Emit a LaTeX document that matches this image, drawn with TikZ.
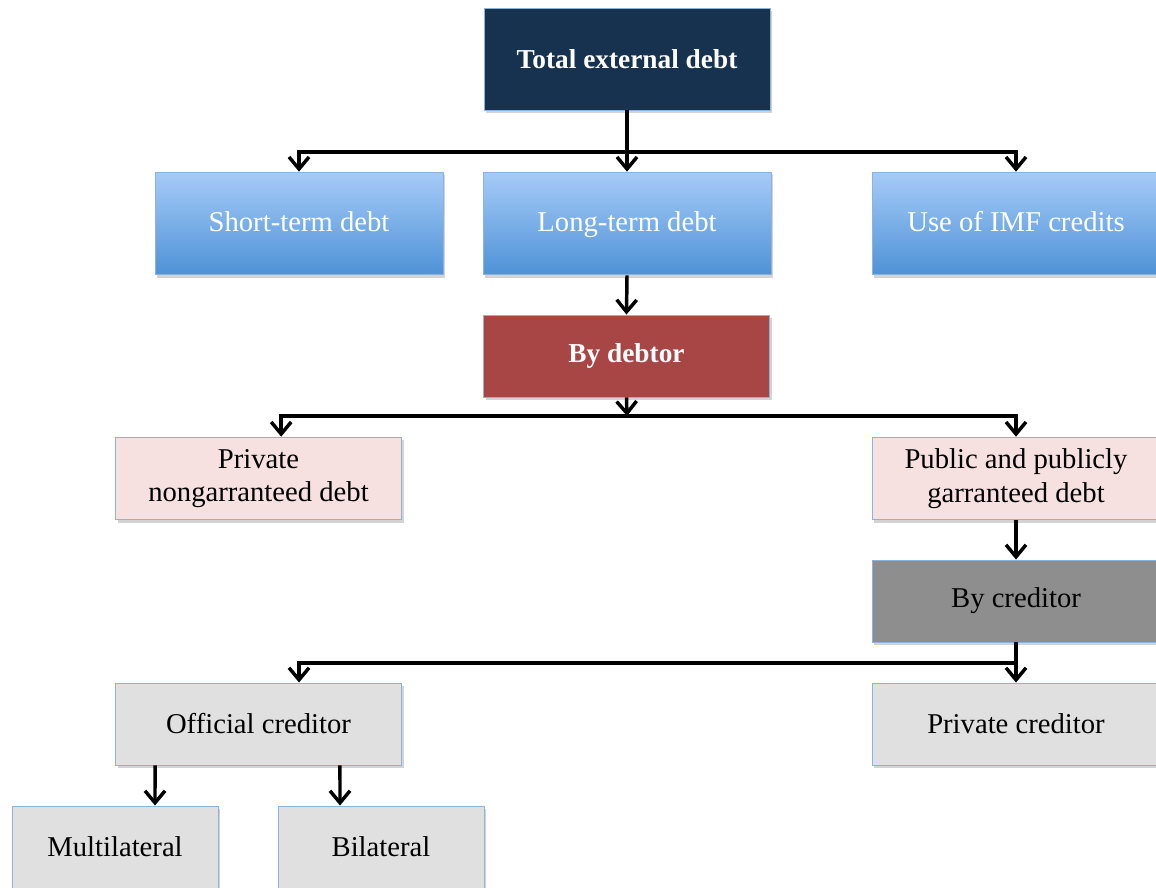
\documentclass[tikz,border=0pt]{standalone}
\usepackage{fontspec}
\setmainfont{Liberation Serif}
\usetikzlibrary{arrows.meta,shadows}
\definecolor{navy}{RGB}{22,50,78}
\definecolor{debtred}{RGB}{168,70,70}
\definecolor{pinkfill}{RGB}{246,225,224}
\definecolor{darkgray}{RGB}{142,142,142}
\definecolor{lightgray}{RGB}{224,224,224}
\definecolor{edgeblue}{RGB}{140,178,222}
\definecolor{bluetop}{RGB}{166,203,247}
\definecolor{bluebot}{RGB}{78,146,215}

\begin{document}
\begin{tikzpicture}[x=0.75pt, y=-0.75pt,
    box/.style={draw=edgeblue, line width=0.7pt, inner sep=0pt, align=center,
        font=\fontsize{21.5}{25}\selectfont,
        drop shadow={shadow xshift=1.8pt, shadow yshift=-2.2pt, opacity=0.35}},
    bold/.style={font=\fontsize{20.5}{25}\selectfont\bfseries},
    bluebox/.style={box, top color=bluetop, bottom color=bluebot, text=white,
        minimum width=216pt, minimum height=77pt, text height=16pt, text depth=4pt},
    arr/.style={-{Straight Barb[length=9pt, width=15pt, line width=2.6pt]}, line width=2.6pt}]
    \clip (0,0) rectangle (1156,888);

    % Top level
    \node[box, bold, fill=navy, text=white, minimum width=214.5pt, minimum height=76.5pt] (total) at (627,59) {Total external debt};

    % Kinds of debt
    \node[bluebox] (short) at (299,223.5) {Short-term debt};
    \node[bluebox] (long) at (627,223.5) {Long-term debt};
    \node[bluebox] (imf) at (1016,223.5) {Use of IMF credits};

    % By debtor
    \node[box, bold, fill=debtred, text=white, minimum width=215pt, minimum height=61.5pt] (bydebtor) at (626.5,356) {By debtor};
    \node[box, fill=pinkfill, minimum width=215pt, minimum height=62pt] (privng) at (258.5,478.5) {Private\\nongarranteed debt};
    \node[box, fill=pinkfill, minimum width=216pt, minimum height=62pt] (public) at (1016,478.5) {Public and publicly\\garranteed debt};

    % By creditor
    \node[box, fill=darkgray, minimum width=216pt, minimum height=61.5pt] (bycred) at (1016,601) {By creditor};
    \node[box, fill=lightgray, minimum width=215pt, minimum height=61.5pt] (official) at (258.5,724) {Official creditor};
    \node[box, fill=lightgray, minimum width=216pt, minimum height=61.5pt] (privcred) at (1016,724) {Private creditor};
    \node[box, fill=lightgray, minimum width=154.5pt, minimum height=61.5pt] (multi) at (115,847) {Multilateral};
    \node[box, fill=lightgray, minimum width=154.5pt, minimum height=61.5pt] (bilat) at (381,847) {Bilateral};

    % Buses
    \coordinate (topbus) at (627,152);
    \coordinate (debtbus) at (627,416);
    \coordinate (credbus) at (1016,663);

    % Arrows
    \draw[arr] (total.south) -- (long.north);
    \draw[arr] (topbus) -| (short.north);
    \draw[arr] (topbus) -| (imf.north);
    \draw[arr] (long.south) -- (bydebtor.north);
    \draw[arr] (bydebtor.south) -- (debtbus);
    \draw[arr] (debtbus) -| ([xshift=17pt]privng.north);
    \draw[arr] (debtbus) -| (public.north);
    \draw[arr] (public.south) -- (bycred.north);
    \draw[arr] (bycred.south) -- (privcred.north);
    \draw[arr] (credbus) -| ([xshift=30.4pt]official.north);
    \draw[arr] ([xshift=-77.6pt]official.south) -- ([xshift=30pt]multi.north);
    \draw[arr] ([xshift=61.1pt]official.south) -- ([xshift=-30.75pt]bilat.north);
\end{tikzpicture}
\end{document}
